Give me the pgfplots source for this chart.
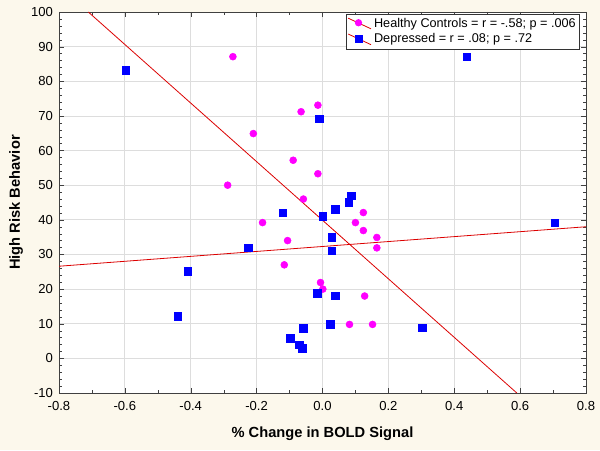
\documentclass[border=0pt]{standalone}
\usepackage{pgfplots}
\pgfplotsset{compat=1.18}
\usepackage{fontspec}
\setmainfont{Liberation Sans}
\definecolor{bgcream}{RGB}{252,248,236}
\definecolor{mag}{RGB}{255,0,255}
\definecolor{blu}{RGB}{0,0,255}
\definecolor{regred}{RGB}{220,0,0}
\definecolor{gridgray}{RGB}{221,221,221}
\begin{document}
\begin{tikzpicture}[x=0.75pt,y=0.75pt]
\fill[bgcream] (0,0) rectangle (600,450);
\begin{axis}[
  at={(44.25pt,42.75pt)}, anchor=south west,
  scale only axis, width=395.25pt, height=285.75pt,
  xmin=-0.8, xmax=0.8, ymin=-10, ymax=100,
  xtick={-0.8,-0.6,...,0.81}, ytick={-10,0,...,100},
  minor x tick num=1, minor y tick num=4,
  grid=major, major grid style={gridgray, line width=0.6pt},
  axis background/.style={fill=white},
  axis line style={black!75},
  tick style={black!75},
  major tick length=4pt, minor tick length=2pt,
  font=\fontsize{9.8}{11}\selectfont,
  /pgf/number format/assume math mode=true,
  xticklabel style={yshift=-2.5pt, /pgf/number format/.cd, fixed, fixed zerofill, precision=1},
  yticklabel style={xshift=-1pt, /pgf/number format/.cd, fixed, precision=0},
  xlabel={\bfseries\% Change in BOLD Signal},
  ylabel={\bfseries High Risk Behavior},
  xlabel style={at={(axis description cs:0.5,-0.1076)}, anchor=center, font=\fontsize{11}{12}\selectfont},
  ylabel style={at={(axis description cs:-0.0816,0.5)}, anchor=center, rotate=0, font=\fontsize{11}{12}\selectfont},
  legend style={at={(axis description cs:0.989,0.996)}, anchor=north east, draw=black!80, fill=white,
    font=\fontsize{9.5}{11}\selectfont, inner sep=1pt, row sep=-0.5pt, line width=0.6pt},
  legend cell align=left,
  clip=true,
]
\addplot[regred, line width=0.6pt, forget plot] coordinates {(-0.711,100) (0.590,-10)};
\addplot[regred, line width=0.6pt, forget plot] coordinates {(-0.8,26.6) (0.8,38.0)};
\addplot[only marks, mark=*, mark size=2.6pt, mag, mark options={draw=mag, fill=mag},
  legend image code/.code={\draw[regred, line width=0.6pt] (0cm,0.14cm) -- (0.6cm,-0.14cm);
    \fill[mag] (0.27cm,0.02cm) circle (2.4pt);}]
coordinates {
(-0.272,87.1) (-0.065,71.2) (-0.014,73.1) (-0.21,64.9) (-0.089,57.2)
(-0.014,53.3) (-0.288,50) (-0.058,46) (-0.182,39.2) (0.10,39.2)
(0.124,42.1) (0.124,36.9) (0.165,34.9) (0.165,31.9) (-0.106,34)
(-0.116,27) (-0.006,21.9) (0.001,20) (0.128,18) (0.082,9.8) (0.152,9.8)
};
\addlegendentry{Healthy Controls = r = -.58; p = .006}
\addplot[only marks, mark=square*, mark size=2.8pt, blu, mark options={draw=blu, fill=blu},
  legend image code/.code={\draw[regred, line width=0.6pt] (0cm,0.14cm) -- (0.6cm,-0.14cm);
    \fill[blu] (0.27cm-2.6pt,0.02cm-2.6pt) rectangle (0.27cm+2.6pt,0.02cm+2.6pt);}]
coordinates {
(-0.598,83.2) (0.438,87.1) (-0.010,69.1) (0.087,47) (0.079,45.1)
(0.039,43.1) (-0.12,42.1) (0.001,41.0) (0.028,34.9) (-0.226,31.9)
(0.028,31) (-0.409,25.1) (-0.439,12.1) (-0.016,18.8) (0.039,18)
(0.024,9.8) (-0.058,8.7) (-0.098,5.8) (-0.071,3.9) (-0.061,2.9)
(0.706,39.2) (0.303,8.8)
};
\addlegendentry{Depressed = r = .08; p = .72}
\end{axis}
\end{tikzpicture}
\end{document}
